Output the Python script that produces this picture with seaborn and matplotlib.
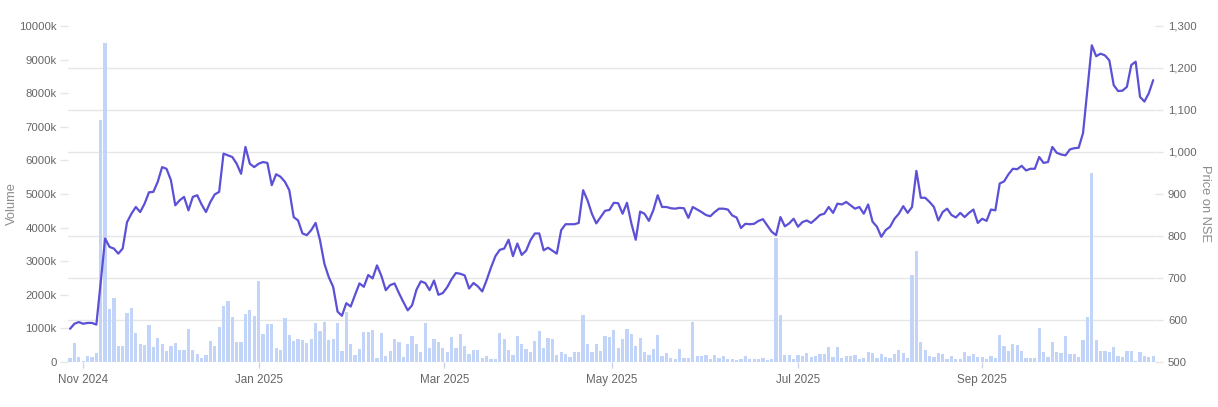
"""
One year of daily NSE trading: volume as bars (left axis) and the closing
price as a line (right axis). Saves the chart to out.png
"""

import numpy as np
import pandas as pd
import seaborn as sns
import matplotlib.pyplot as plt
from matplotlib.ticker import FixedLocator, FuncFormatter

# ------------------------------ trading calendar ------------------------------
start_date = "2024-10-29"
end_date = "2025-10-28"
extra_sessions = ["2025-02-01"]  # saturday budget session
holidays = ["2024-11-15", "2024-11-20", "2024-12-25", "2025-02-26",
            "2025-03-14", "2025-03-31", "2025-04-10", "2025-04-14",
            "2025-04-18", "2025-05-01", "2025-08-15", "2025-08-27",
            "2025-10-02", "2025-10-22"]

month_starts = ["2024-11-01", "2025-01-01", "2025-03-01", "2025-05-01",
                "2025-07-01", "2025-09-01"]
month_labels = ["Nov 2024", "Jan 2025", "Mar 2025", "May 2025", "Jul 2025",
                "Sep 2025"]

# ------------------------------- daily values ---------------------------------
# volume in thousands of shares
volume_k = [
    110, 555, 140, 40, 190, 160, 260, 7200, 9500, 1580,
    1900, 490, 490, 1450, 1600, 850, 540, 520, 1110, 450,
    700, 550, 340, 470, 555, 350, 350, 970, 370, 240,
    120, 210, 615, 470, 1030, 1680, 1810, 1330, 585, 585,
    1420, 1540, 1360, 2420, 830, 1140, 1140, 410, 350, 1300,
    800, 625, 685, 645, 565, 675, 1160, 920, 1180, 665,
    695, 1150, 320, 1480, 535, 210, 400, 880, 880, 960,
    120, 850, 180, 330, 685, 605, 160, 535, 785, 535,
    300, 1160, 425, 675, 585, 405, 310, 735, 425, 835,
    475, 250, 350, 350, 130, 170, 100, 100, 865, 675,
    365, 210, 765, 535, 385, 290, 635, 920, 405, 725,
    675, 200, 310, 250, 140, 300, 300, 1410, 545, 300,
    535, 340, 765, 745, 950, 415, 685, 970, 845, 465,
    715, 290, 200, 385, 815, 190, 260, 120, 80, 385,
    130, 130, 1180, 170, 180, 210, 100, 200, 110, 170,
    100, 90, 70, 100, 190, 100, 100, 100, 120, 60,
    100, 3690, 1400, 200, 200, 100, 200, 170, 280, 160,
    190, 240, 250, 435, 150, 445, 110, 180, 170, 200,
    100, 120, 290, 260, 120, 240, 150, 130, 240, 350,
    270, 130, 2590, 3290, 605, 367, 188, 149, 258, 228,
    99, 169, 89, 89, 288, 169, 248, 159, 159, 79,
    179, 129, 794, 486, 337, 546, 496, 337, 129, 129,
    129, 1012, 298, 139, 595, 298, 258, 774, 238, 228,
    159, 655, 1339, 5630, 655, 337, 317, 298, 437, 169,
    159, 317, 337, 20, 288, 179, 139, 188,
]

# closing price on NSE
price = [
    579, 591, 595, 591, 593, 593, 589, 690, 794, 774,
    770, 758, 770, 833, 853, 869, 857, 877, 904, 905,
    929, 964, 960, 933, 873, 885, 893, 861, 893, 897,
    875, 857, 881, 899, 905, 996, 992, 988, 972, 948,
    1012, 972, 964, 972, 976, 974, 921, 947, 941, 929,
    909, 845, 837, 806, 802, 814, 831, 790, 734, 702,
    679, 620, 610, 640, 632, 660, 687, 679, 707, 699,
    730, 705, 671, 683, 687, 664, 643, 623, 635, 672,
    692, 688, 671, 694, 660, 664, 678, 697, 712, 710,
    706, 675, 688, 680, 668, 695, 725, 752, 767, 770,
    791, 752, 782, 755, 765, 790, 806, 806, 766, 772,
    765, 758, 814, 828, 828, 828, 831, 909, 885, 853,
    830, 845, 860, 862, 879, 878, 853, 879, 830, 791,
    858, 853, 836, 861, 897, 869, 869, 866, 865, 867,
    866, 843, 869, 863, 857, 850, 847, 857, 865, 865,
    863, 849, 844, 819, 829, 828, 829, 836, 840, 825,
    810, 802, 845, 823, 830, 841, 822, 833, 837, 831,
    840, 850, 853, 869, 855, 877, 875, 881, 873, 865,
    869, 853, 875, 834, 822, 798, 814, 822, 841, 853,
    871, 855, 869, 955, 891, 891, 881, 869, 837, 857,
    865, 850, 844, 855, 845, 855, 863, 831, 841, 836,
    863, 861, 925, 930, 947, 960, 959, 967, 956, 960,
    960, 988, 974, 976, 1012, 998, 994, 992, 1006, 1009,
    1010, 1045, 1150, 1254, 1228, 1234, 1230, 1218, 1159, 1145,
    1146, 1155, 1207, 1215, 1131, 1120, 1140, 1171,
]

# ------------------------------- build frame ----------------------------------
dates = pd.bdate_range(start_date, end_date)
dates = dates.union(pd.DatetimeIndex(extra_sessions))
dates = dates.difference(pd.DatetimeIndex(holidays))

df = pd.DataFrame({"date": dates, "volume": volume_k, "price": price})
df["idx"] = np.arange(len(df))

# month ticks sit between trading days when the 1st is not a session
day_num = dates.values.astype("datetime64[D]").astype(float)
month_num = pd.DatetimeIndex(month_starts).values.astype("datetime64[D]").astype(float)
tick_pos = np.interp(month_num, day_num, df["idx"])

# --------------------------------- plotting -----------------------------------
sns.set_theme(style="white")
plt.rcParams["font.family"] = ["Liberation Sans", "DejaVu Sans"]

label_grey = "#666666"
grid_grey = "#e6e6e6"

fig = plt.figure(figsize=(12.18, 4.07), dpi=100)
ax = fig.add_axes([0.0557, 0.1106, 0.8929, 0.8256])

sns.barplot(data=df, x="idx", y="volume", color="#c2d5f9", saturation=1,
            width=0.74, linewidth=0, edgecolor="none", ax=ax, zorder=2)

ax2 = ax.twinx()
sns.lineplot(data=df, x="idx", y="price", color="#5b50d6", linewidth=1.6,
             ax=ax2, solid_joinstyle="round")

# price gridlines drawn on the volume axes so bars sit on top of them
ax.set_ylim(0, 10000)
ax2.set_ylim(500, 1300)
ax.yaxis.set_major_locator(FixedLocator(np.arange(0, 10001, 1000)))
ax.yaxis.set_major_formatter(FuncFormatter(
    lambda v, p: "0" if v == 0 else f"{int(v)}k"))
ax.yaxis.set_minor_locator(FixedLocator(np.linspace(0, 10000, 9)))
ax.set_axisbelow(True)
ax.grid(False)
ax.grid(True, which="minor", axis="y", color=grid_grey, linewidth=1)
ax2.grid(False)

ax2.yaxis.set_major_locator(FixedLocator(np.arange(500, 1301, 100)))
ax2.yaxis.set_major_formatter(FuncFormatter(lambda v, p: f"{int(v):,}"))

ax.set_xlim(-0.5, len(df) - 0.5)
ax.set_xticks(tick_pos, month_labels)

ax.tick_params(axis="y", which="major", length=6, width=1, color=grid_grey,
               labelsize=8.2, labelcolor=label_grey, pad=2, left=True)
ax.tick_params(axis="y", which="minor", length=0)
ax.tick_params(axis="x", length=4, width=1, color="#ccd6eb", labelsize=8.4,
               labelcolor=label_grey, pad=5, bottom=True)
ax2.tick_params(axis="y", length=6, width=1, color=grid_grey, labelsize=8.2,
                labelcolor=label_grey, pad=3, right=True)

for a in (ax, ax2):
    a.set_xlabel("")
    a.set_ylabel("")
    for s in a.spines.values():
        s.set_visible(False)

fig.text(12 / 1218, 0.499, "Volume", rotation=90, ha="center", va="center",
         fontsize=9.3, color="#8c8c8c")
fig.text(1205 / 1218, 0.499, "Price on NSE", rotation=270, ha="center",
         va="center", fontsize=9.3, color="#8c8c8c")

plt.savefig("out.png", dpi=100)
